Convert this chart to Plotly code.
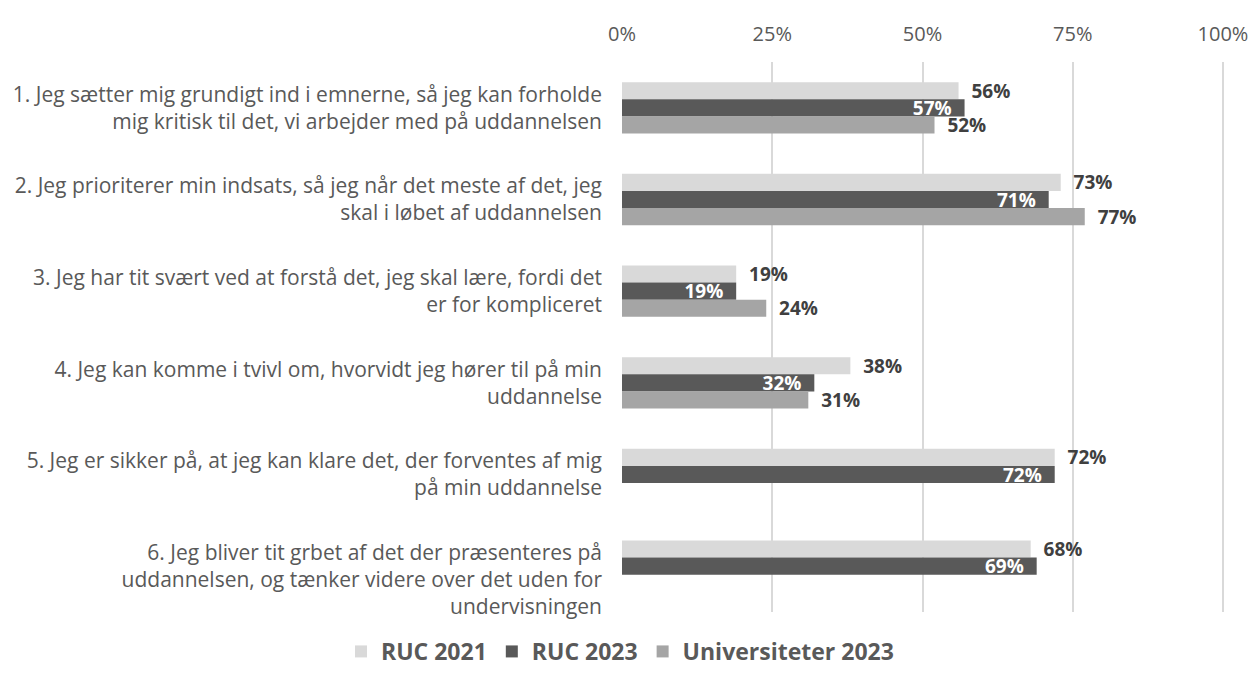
import plotly.graph_objects as go

categories = [
    "1. Jeg sætter mig grundigt ind i emnerne, så jeg kan forholde<br>mig kritisk til det, vi arbejder med på uddannelsen",
    "2. Jeg prioriterer min indsats, så jeg når det meste af det, jeg<br>skal i løbet af uddannelsen",
    "3. Jeg har tit svært ved at forstå det, jeg skal lære, fordi det<br>er for kompliceret",
    "4. Jeg kan komme i tvivl om, hvorvidt jeg hører til på min<br>uddannelse",
    "5. Jeg er sikker på, at jeg kan klare det, der forventes af mig<br>på min uddannelse",
    "<br>6. Jeg bliver tit grbet af det der præsenteres på<br>uddannelsen, og tænker videre over det uden for<br>undervisningen",
]
keys = ["Q1", "Q2", "Q3", "Q4", "Q5", "Q6"]

ruc_2021 = [56, 73, 19, 38, 72, 68]
ruc_2023 = [57, 71, 19, 32, 72, 69]
univ_2023 = [52, 77, 24, 31, None, None]

tick_vals = [0, 25, 50, 75, 100]
tick_text = ["0%", "25%", "50%", "75%", "100%"]

FONT = "Open Sans"
GREY = "#595959"
LBL = "#404040"
NB = "\u00a0"


def out_labels(vals):
    return [f"{NB*2}{v}%" if v is not None else "" for v in vals]


def in_labels(vals):
    return [f"{v}%{NB*2}" if v is not None else "" for v in vals]


fig = go.Figure()
fig.add_trace(go.Bar(
    name="RUC 2021", y=keys, x=ruc_2021, orientation="h",
    marker=dict(color="#D9D9D9", line=dict(width=0)),
    text=out_labels(ruc_2021), textposition="outside", constraintext="none",
    textfont=dict(family=FONT, size=19, color=LBL, weight="bold"),
    cliponaxis=False,
))
fig.add_trace(go.Bar(
    name="RUC 2023", y=keys, x=ruc_2023, orientation="h",
    marker=dict(color="#595959", line=dict(width=0)),
    text=in_labels(ruc_2023), textposition="inside", insidetextanchor="end",
    constraintext="none",
    textfont=dict(family=FONT, size=19, color="white", weight="bold"),
))
fig.add_trace(go.Bar(
    name="Universiteter 2023", y=keys, x=univ_2023, orientation="h",
    marker=dict(color="#A5A5A5", line=dict(width=0)),
    text=out_labels(univ_2023), textposition="outside", constraintext="none",
    textfont=dict(family=FONT, size=19, color=LBL, weight="bold"),
    cliponaxis=False,
))

fig.update_layout(
    width=1251, height=675,
    margin=dict(l=622, r=22, t=62, b=63, autoexpand=False),
    paper_bgcolor="white", plot_bgcolor="white",
    barmode="group", bargap=0.44, bargroupgap=0,
    font=dict(family=FONT, size=16, color=GREY),
    xaxis=dict(
        range=[0, 101], side="top", tickvals=tick_vals, ticktext=tick_text,
        showgrid=True, gridcolor="#D9D9D9", gridwidth=2,
        zeroline=False, showline=False, ticks="",
        tickfont=dict(family=FONT, size=20, color=GREY),
        ticklabelstandoff=16,
        automargin=False,
    ),
    yaxis=dict(
        tickvals=keys, ticktext=categories, autorange="reversed",
        showgrid=False, zeroline=False, showline=False, ticks="",
        tickfont=dict(family=FONT, size=21, color=GREY),
        ticklabelstandoff=19,
        automargin=False,
    ),
    legend=dict(
        orientation="h", x=0.4956, xanchor="center", xref="container",
        y=0.003, yanchor="bottom", yref="container",
        font=dict(family=FONT, size=23, color=GREY, weight="bold"),
        traceorder="normal",
    ),
    showlegend=True,
)

fig.write_html(
    "out.html",
    config={"displayModeBar": False},
    post_script="document.body.style.margin='0px';",
)
